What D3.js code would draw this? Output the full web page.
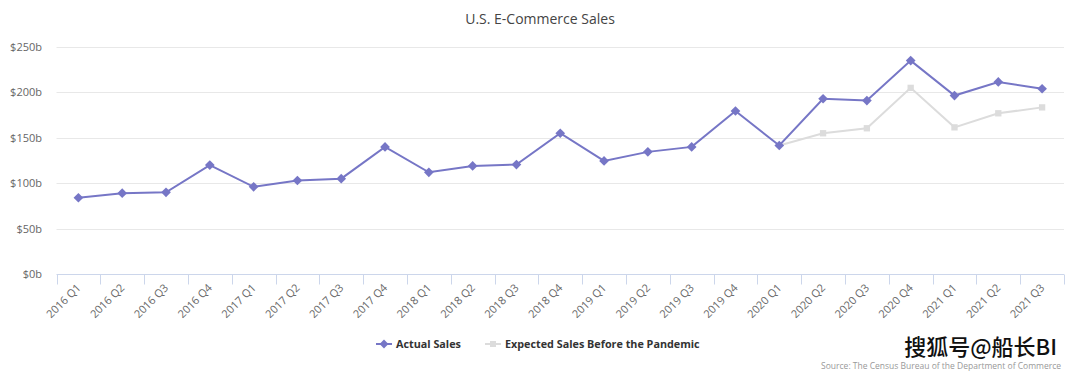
<!DOCTYPE html>
<html>
<head>
<meta charset="utf-8">
<script src="https://cdn.jsdelivr.net/npm/d3@7"></script>
<style>
  body { margin: 0; background: #fff; }
  svg { display: block; font-family: "Open Sans", "DejaVu Sans", sans-serif; }
</style>
</head>
<body>
<script>
const width = 1080;
const height = 375;

const quarters = [
    "2016 Q1", "2016 Q2", "2016 Q3", "2016 Q4",
    "2017 Q1", "2017 Q2", "2017 Q3", "2017 Q4",
    "2018 Q1", "2018 Q2", "2018 Q3", "2018 Q4",
    "2019 Q1", "2019 Q2", "2019 Q3", "2019 Q4",
    "2020 Q1", "2020 Q2", "2020 Q3", "2020 Q4",
    "2021 Q1", "2021 Q2", "2021 Q3"
];
const actualSales = [
    84, 89, 90, 120,
    96, 103, 105, 140,
    112, 119, 120.5, 155,
    124.5, 134.5, 140, 179.5,
    141.5, 193, 191, 235,
    196.5, 211.5, 204
];
// expected series only starts at 2020 Q1
const expectedQuarters = ["2020 Q1", "2020 Q2", "2020 Q3", "2020 Q4", "2021 Q1", "2021 Q2", "2021 Q3"];
const expectedSales = [141.5, 155, 160.5, 205, 161.5, 177, 183.5];
const yTicks = [0, 50, 100, 150, 200, 250];

const actualColor = "#7676c6";
const expectedColor = "#dcdcdc";

const margin = {top: 47, right: 16, bottom: 101, left: 56.5};

const svg = d3.select(document.body).append("svg")
    .attr("width", width)
    .attr("height", height);

const x = d3.scaleBand()
    .domain(quarters)
    .range([margin.left, width - margin.right]);

const y = d3.scaleLinear()
    .domain([0, 250])
    .range([height - margin.bottom, margin.top]);

const cx = d => x(d) + x.bandwidth() / 2;

svg.append("text")
    .attr("x", width / 2)
    .attr("y", 24)
    .attr("text-anchor", "middle")
    .attr("fill", "#444")
    .attr("font-size", 14)
    .text("U.S. E-Commerce Sales");

// gridlines
svg.append("g")
    .selectAll("line")
    .data(yTicks.slice(1))
    .join("line")
    .attr("x1", margin.left)
    .attr("x2", width - margin.right)
    .attr("y1", d => Math.round(y(d)) + 0.5)
    .attr("y2", d => Math.round(y(d)) + 0.5)
    .attr("stroke", "#e8e8e8");

// y labels
svg.append("g")
    .selectAll("text")
    .data(yTicks)
    .join("text")
    .attr("x", 42)
    .attr("y", d => y(d) + 4)
    .attr("text-anchor", "end")
    .attr("fill", "#666")
    .attr("font-size", 11)
    .text(d => "$" + d + "b");

// x axis
const xAxis = svg.append("g")
    .attr("transform", `translate(0,${Math.round(y(0)) + 0.5})`);

xAxis.append("line")
    .attr("x1", margin.left)
    .attr("x2", width - margin.right)
    .attr("stroke", "#ccd6eb");

xAxis.selectAll(".tick")
    .data(quarters.concat([null]))
    .join("line")
    .attr("x1", (d, i) => Math.round(margin.left + i * x.step()) + 0.5)
    .attr("x2", (d, i) => Math.round(margin.left + i * x.step()) + 0.5)
    .attr("y1", 0)
    .attr("y2", 10)
    .attr("stroke", "#ccd6eb");

xAxis.append("g")
    .attr("opacity", 0.99)
    .selectAll("text")
    .data(quarters)
    .join("text")
    .attr("transform", d => `translate(${cx(d) + 3},${14}) rotate(-45)`)
    .attr("text-anchor", "end")
    .attr("fill", "#666")
    .attr("font-size", 11)
    .text(d => d);

const line = d3.line()
    .x(d => cx(d[0]))
    .y(d => y(d[1]));

const expectedPts = d3.zip(expectedQuarters, expectedSales);
const actualPts = d3.zip(quarters, actualSales);

svg.append("path")
    .datum(expectedPts)
    .attr("d", line)
    .attr("fill", "none")
    .attr("stroke", expectedColor)
    .attr("stroke-width", 2);

svg.append("g")
    .selectAll("path")
    .data(expectedPts.slice(1))
    .join("path")
    .attr("transform", d => `translate(${cx(d[0])},${y(d[1])})`)
    .attr("d", d3.symbol(d3.symbolSquare, 40))
    .attr("fill", expectedColor);

svg.append("path")
    .datum(actualPts)
    .attr("d", line)
    .attr("fill", "none")
    .attr("stroke", actualColor)
    .attr("stroke-width", 2);

svg.append("g")
    .selectAll("path")
    .data(actualPts)
    .join("path")
    .attr("transform", d => `translate(${cx(d[0])},${y(d[1])})`)
    .attr("d", d3.symbol(d3.symbolDiamond2, 60))
    .attr("fill", actualColor);

// legend
const legendItems = [
    {name: "Actual Sales", color: actualColor, sym: d3.symbolDiamond2, size: 50, x: 376},
    {name: "Expected Sales Before the Pandemic", color: expectedColor, sym: d3.symbolSquare, size: 36, x: 485}
];
const legend = svg.append("g")
    .selectAll("g")
    .data(legendItems)
    .join("g")
    .attr("transform", d => `translate(${d.x},344)`);

legend.append("line")
    .attr("x1", 0).attr("x2", 16)
    .attr("stroke", d => d.color)
    .attr("stroke-width", 2);

legend.append("path")
    .attr("transform", "translate(8,0)")
    .attr("d", d => d3.symbol(d.sym, d.size)())
    .attr("fill", d => d.color);

legend.append("text")
    .attr("x", 20)
    .attr("y", 4)
    .attr("font-size", 10.8)
    .attr("font-weight", "bold")
    .attr("fill", "#333")
    .text(d => d.name);

svg.append("text")
    .attr("x", 1061)
    .attr("y", 369)
    .attr("text-anchor", "end")
    .attr("font-size", 8.5)
    .attr("fill", "#999")
    .text("Source: The Census Bureau of the Department of Commerce");

// watermark
svg.append("text")
    .attr("x", 1057)
    .attr("y", 355)
    .attr("text-anchor", "end")
    .attr("font-family", "Noto Sans CJK SC")
    .attr("font-size", 22)
    .attr("font-weight", 500)
    .attr("fill", "#111")
    .attr("stroke", "#fff")
    .attr("stroke-width", 2)
    .attr("paint-order", "stroke")
    .text("搜狐号@船长BI");
</script>
</body>
</html>
